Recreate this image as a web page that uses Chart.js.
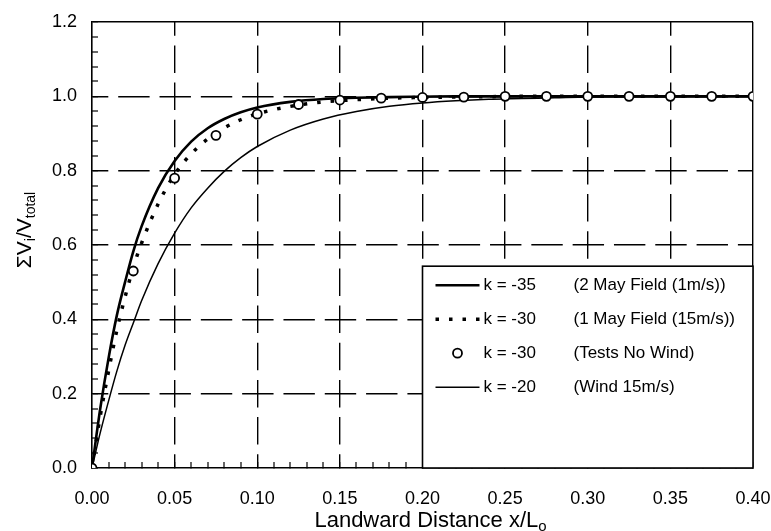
<!DOCTYPE html>
<html>
<head>
<meta charset="utf-8">
<script src="https://cdn.jsdelivr.net/npm/chart.js@4.4.1/dist/chart.umd.min.js"></script>
<style>
  body { margin: 0; background: #fff; }
  canvas { display: block; }
</style>
</head>
<body>
<canvas id="chart" width="771" height="531"></canvas>
<script>
const curveX = [0, 0.005, 0.01, 0.015, 0.02, 0.025, 0.03, 0.04, 0.05, 0.06, 0.07, 0.08, 0.09, 0.10,
  0.12, 0.14, 0.16, 0.18, 0.20, 0.22, 0.24, 0.26, 0.28, 0.30, 0.35, 0.40];
const k35 = [0, 0.16, 0.295, 0.41, 0.50, 0.583, 0.65, 0.753, 0.826, 0.878, 0.914, 0.939, 0.957, 0.970,
  0.985, 0.993, 0.996, 0.998, 0.999, 1.0, 1.0, 1.0, 1.0, 1.0, 1.0, 1.0];
const k30 = [0, 0.14, 0.26, 0.37, 0.46, 0.54, 0.605, 0.71, 0.79, 0.845, 0.885, 0.915, 0.937, 0.953,
  0.973, 0.985, 0.991, 0.995, 0.997, 0.998, 0.999, 1.0, 1.0, 1.0, 1.0, 1.0];
const k20 = [0, 0.095, 0.18, 0.26, 0.33, 0.39, 0.45, 0.55, 0.632, 0.70, 0.753, 0.798, 0.835, 0.865,
  0.909, 0.939, 0.959, 0.973, 0.982, 0.988, 0.992, 0.994, 0.996, 0.998, 0.999, 1.0];

// tests, no wind (open circles)
const testX = [0, 0.025, 0.05, 0.075, 0.10, 0.125, 0.15, 0.175, 0.20, 0.225, 0.25, 0.275, 0.30,
  0.325, 0.35, 0.375, 0.40];
const testY = [0, 0.53, 0.78, 0.895, 0.952, 0.978, 0.99, 0.995, 0.997, 0.998, 1.0, 1.0, 1.0,
  1.0, 1.0, 1.0, 1.0];

const legendK = ['k = -35', 'k = -30', 'k = -30', 'k = -20'];
const legendNote = ['(2 May Field (1m/s))', '(1 May Field (15m/s))', '(Tests No Wind)', '(Wind 15m/s)'];
const legendOrder = [1, 2, 0, 3]; // dataset index for each legend row

const xMax = 0.40, xStep = 0.01, xMajor = 5;   // label every 5th minor tick
const yMax = 1.2, yStep = 0.04, yMajor = 5;

const pts = (xs, ys) => xs.map((x, i) => ({ x: x, y: ys[i] }));
const isMajor = (v, step, every) => Math.round(v / step) % every === 0;
const FONT = '"Liberation Sans", Arial, sans-serif';

function drawParts(ctx, parts, x, y, size, subSize) {
  let w = 0;
  parts.forEach(p => {
    ctx.font = (p[1] ? subSize : size) + 'px ' + FONT;
    w += ctx.measureText(p[0]).width;
  });
  let cx = x - w / 2;
  parts.forEach(p => {
    ctx.font = (p[1] ? subSize : size) + 'px ' + FONT;
    ctx.fillText(p[0], cx, y + (p[1] ? 4 : 0));
    cx += ctx.measureText(p[0]).width;
  });
}

const extras = {
  id: 'extras',
  afterDraw(chart) {
    const { ctx, chartArea, scales } = chart;
    ctx.save();
    ctx.fillStyle = '#000';
    ctx.textBaseline = 'alphabetic';

    // axis titles with subscripts
    drawParts(ctx, [['Landward Distance x/L', false], ['o', true]],
      (chartArea.left + chartArea.right) / 2 + 8, 527, 22, 15);
    ctx.save();
    ctx.translate(31, 230);
    ctx.rotate(-Math.PI / 2);
    drawParts(ctx, [['\u03A3V', false], ['i', true], ['/V', false], ['total', true]], 0, 0, 21, 14);
    ctx.restore();

    // legend box in the lower right of the plot
    const left = scales.x.getPixelForValue(0.20);
    const top = scales.y.getPixelForValue(0.543);
    const w = chartArea.right - left, h = chartArea.bottom - top;
    ctx.fillStyle = '#fff';
    ctx.fillRect(left, top, w, h);
    ctx.strokeStyle = '#000';
    ctx.lineWidth = 1.6;
    ctx.strokeRect(left, top, w, h);

    ctx.font = '17px ' + FONT;
    ctx.textBaseline = 'middle';
    legendOrder.forEach((di, row) => {
      const ds = chart.data.datasets[di];
      const y = top + 19 + row * 34;
      ctx.strokeStyle = '#000';
      if (ds.showLine === false) {
        ctx.setLineDash([]);
        ctx.lineWidth = ds.pointBorderWidth;
        ctx.fillStyle = '#fff';
        ctx.beginPath();
        ctx.arc(left + 35, y, ds.pointRadius, 0, Math.PI * 2);
        ctx.fill();
        ctx.stroke();
      } else {
        ctx.setLineDash(ds.borderDash || []);
        ctx.lineWidth = ds.borderWidth;
        ctx.beginPath();
        ctx.moveTo(left + 13, y);
        ctx.lineTo(left + 57, y);
        ctx.stroke();
      }
      ctx.setLineDash([]);
      ctx.fillStyle = '#000';
      ctx.fillText(legendK[row], left + 61, y);
      ctx.fillText(legendNote[row], left + 151, y);
    });
    ctx.restore();
  }
};

new Chart(document.getElementById('chart'), {
  type: 'line',
  data: {
    datasets: [
      {
        label: 'k = -30 (Tests No Wind)',
        data: pts(testX, testY),
        showLine: false,
        pointRadius: 4.5,
        pointBorderWidth: 1.8,
        pointBackgroundColor: '#fff',
        pointBorderColor: '#000'
      },
      {
        label: 'k = -35 (2 May Field (1m/s))',
        data: pts(curveX, k35),
        borderColor: '#000',
        borderWidth: 2.6,
        pointRadius: 0,
        cubicInterpolationMode: 'monotone'
      },
      {
        label: 'k = -30 (1 May Field (15m/s))',
        data: pts(curveX, k30),
        borderColor: '#000',
        borderWidth: 3.5,
        borderDash: [3.5, 10],
        pointRadius: 0,
        cubicInterpolationMode: 'monotone'
      },
      {
        label: 'k = -20 (Wind 15m/s)',
        data: pts(curveX, k20),
        borderColor: '#000',
        borderWidth: 1.5,
        pointRadius: 0,
        cubicInterpolationMode: 'monotone'
      }
    ]
  },
  options: {
    responsive: false,
    animation: false,
    layout: { padding: { top: 22, right: 0, left: 0, bottom: 0 } },
    plugins: {
      legend: { display: false },
      tooltip: { enabled: false }
    },
    scales: {
      x: {
        type: 'linear',
        min: 0,
        max: xMax,
        afterFit: s => { s.height = 63; s.paddingLeft = 0; s.paddingRight = 18; },
        ticks: {
          stepSize: xStep,
          autoSkip: false,
          maxRotation: 0,
          padding: 26,
          color: '#000',
          font: { family: FONT, size: 18 },
          callback: v => isMajor(v, xStep, xMajor) ? v.toFixed(2) : ''
        },
        grid: {
          color: '#000',
          lineWidth: c => (c.tick && c.tick.value > 0 && isMajor(c.tick.value, xStep, xMajor)) ? 1.4 : 0,
          tickLength: -6,
          tickColor: '#000',
          tickWidth: 1.2
        },
        border: {
          color: '#000',
          width: 1.6,
          dash: c => {
            if (!c.tick || c.tick.value >= xMax - 1e-9) return [];
            const half = c.chart.chartArea.height / 12;
            return [half * 0.74, half * 0.26];
          },
          dashOffset: c => c.chart.chartArea.height / 12 * 0.37
        }
      },
      y: {
        min: 0,
        max: yMax,
        afterFit: s => { s.width = 92; s.paddingTop = 0; s.paddingBottom = 0; },
        ticks: {
          stepSize: yStep,
          autoSkip: false,
          padding: 21,
          color: '#000',
          font: { family: FONT, size: 18 },
          callback: v => isMajor(v, yStep, yMajor) ? v.toFixed(1) : ''
        },
        grid: {
          color: '#000',
          lineWidth: c => (c.tick && c.tick.value > 0 && isMajor(c.tick.value, yStep, yMajor)) ? 1.4 : 0,
          tickLength: -6,
          tickColor: '#000',
          tickWidth: 1.2
        },
        border: {
          color: '#000',
          width: 1.6,
          dash: c => {
            if (!c.tick || c.tick.value >= yMax - 1e-9) return [];
            const half = c.chart.chartArea.width / 16;
            return [half * 0.76, half * 0.24];
          },
          dashOffset: c => c.chart.chartArea.width / 16 * 0.38
        }
      }
    }
  },
  plugins: [extras]
});
</script>
</body>
</html>
